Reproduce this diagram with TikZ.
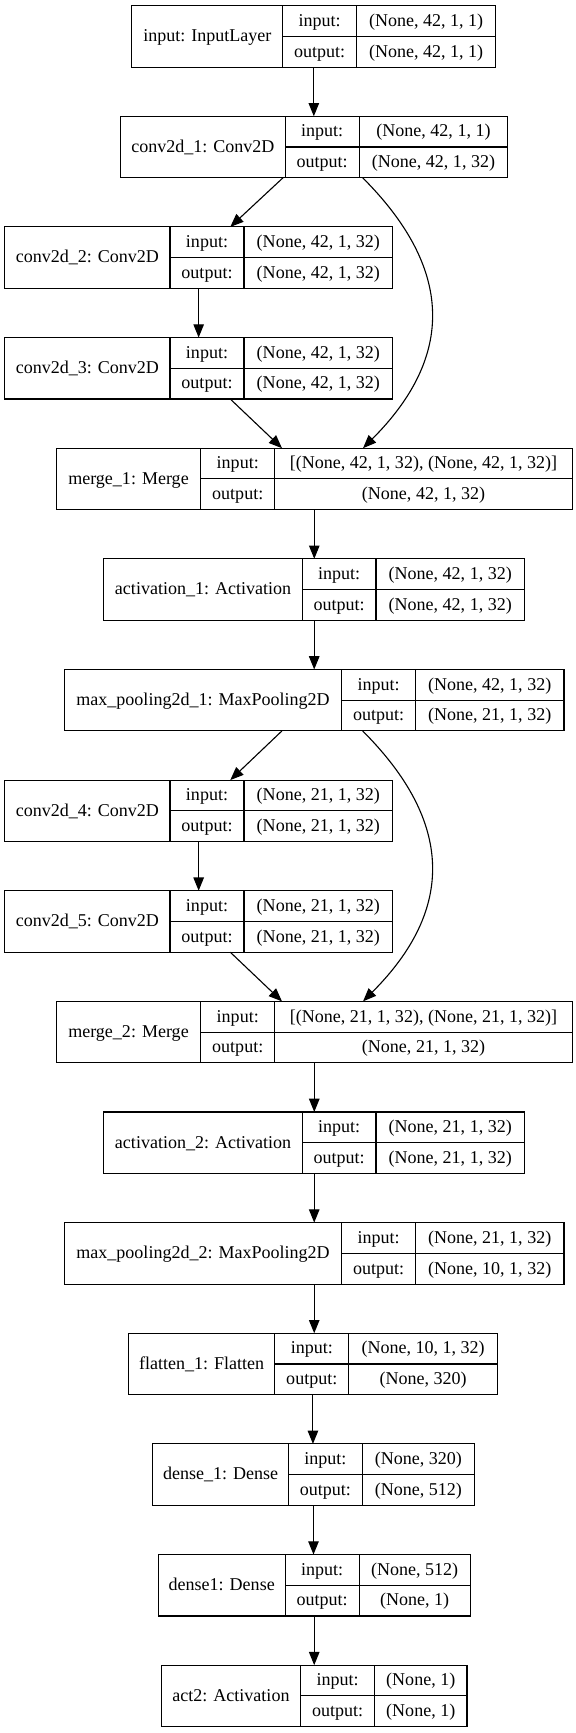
\documentclass[tikz,border=0pt]{standalone}
\usepackage{fontspec}
\setmainfont{Liberation Serif}
\usetikzlibrary{arrows.meta}
\tikzset{
  layerframe/.style={draw, line width=1pt, rectangle, inner sep=0pt, outer sep=0pt},
  cellrule/.style={line width=1pt},
  celltext/.style={anchor=base, inner sep=0pt, font=\fontsize{16.3}{19}\selectfont},
  flow/.style={line width=1pt, -{Triangle[length=12pt,width=9.5pt]}}
}
\newcommand\layerbox[9]{%
  \pgfmathsetmacro\Ltop{5.1+100.05*#2}%
  \pgfmathsetmacro\Lbot{\Ltop+55.6}%
  \pgfmathsetmacro\Lmid{\Ltop+27.8}%
  \pgfmathsetmacro\Lw{#4-#3}%
  \pgfmathsetmacro\Lcx{(#3+#4)/2}%
  \node[layerframe, minimum width=\Lw pt, minimum height=55.6pt] (#1) at (\Lcx,\Lmid) {};
  \draw[cellrule] (#5,\Ltop) -- (#5,\Lbot) (#6,\Ltop) -- (#6,\Lbot) (#5,\Lmid) -- (#4,\Lmid);
  \node[celltext] (#1-name) at ({(#3+#5)/2},{\Lmid+4.8}) {#7};
  \node[celltext] (#1-inl) at ({(#5+#6)/2},{\Ltop+18.7}) {input:};
  \node[celltext] (#1-inv) at ({(#6+#4)/2},{\Ltop+18.7}) {#8};
  \node[celltext] (#1-outl) at ({(#5+#6)/2},{\Ltop+46.5}) {output:};
  \node[celltext] (#1-outv) at ({(#6+#4)/2},{\Ltop+46.5}) {#9};
}
\begin{document}
\begin{tikzpicture}[x=1pt, y=-1pt]
\useasboundingbox (0,0) rectangle (520,1567.2);
\layerbox{in}{0}{119.3}{448.3}{255.7}{322.3}{input: InputLayer}{(None, 42, 1, 1)}{(None, 42, 1, 1)}
\layerbox{c1}{1}{109}{459.3}{258}{324.7}{conv2d\_1: Conv2D}{(None, 42, 1, 1)}{(None, 42, 1, 32)}
\layerbox{c2}{2}{4.3}{355}{153.7}{220.7}{conv2d\_2: Conv2D}{(None, 42, 1, 32)}{(None, 42, 1, 32)}
\layerbox{c3}{3}{4.3}{355}{153.7}{220.7}{conv2d\_3: Conv2D}{(None, 42, 1, 32)}{(None, 42, 1, 32)}
\layerbox{m1}{4}{50.7}{517.7}{181.7}{248.3}{merge\_1: Merge}{[(None, 42, 1, 32), (None, 42, 1, 32)]}{(None, 42, 1, 32)}
\layerbox{a1}{5}{94}{474.3}{273.3}{340}{activation\_1: Activation}{(None, 42, 1, 32)}{(None, 42, 1, 32)}
\layerbox{p1}{6}{58.3}{510}{309}{375.7}{max\_pooling2d\_1: MaxPooling2D}{(None, 42, 1, 32)}{(None, 21, 1, 32)}
\layerbox{c4}{7}{4.3}{355}{153.7}{220.7}{conv2d\_4: Conv2D}{(None, 21, 1, 32)}{(None, 21, 1, 32)}
\layerbox{c5}{8}{4.3}{355}{153.7}{220.7}{conv2d\_5: Conv2D}{(None, 21, 1, 32)}{(None, 21, 1, 32)}
\layerbox{m2}{9}{50.7}{517.7}{181.7}{248.3}{merge\_2: Merge}{[(None, 21, 1, 32), (None, 21, 1, 32)]}{(None, 21, 1, 32)}
\layerbox{a2}{10}{94}{474.3}{273.3}{340}{activation\_2: Activation}{(None, 21, 1, 32)}{(None, 21, 1, 32)}
\layerbox{p2}{11}{58.3}{510}{309}{375.7}{max\_pooling2d\_2: MaxPooling2D}{(None, 21, 1, 32)}{(None, 10, 1, 32)}
\layerbox{fl}{12}{116}{450}{248.6}{315.3}{flatten\_1: Flatten}{(None, 10, 1, 32)}{(None, 320)}
\layerbox{d1}{13}{138}{429}{261}{327.6}{dense\_1: Dense}{(None, 320)}{(None, 512)}
\layerbox{d2}{14}{143}{425.3}{258}{324.7}{dense1: Dense}{(None, 512)}{(None, 1)}
\layerbox{ac}{15}{145.7}{422.3}{272}{338.7}{act2: Activation}{(None, 1)}{(None, 1)}
% straight connectors
\draw[flow] (in.south) -- (in.south |- c1.north);
\draw[flow] (c2.south) -- (c2.south |- c3.north);
\draw[flow] (m1.south) -- (m1.south |- a1.north);
\draw[flow] (a1.south) -- (a1.south |- p1.north);
\draw[flow] (c4.south) -- (c4.south |- c5.north);
\draw[flow] (m2.south) -- (m2.south |- a2.north);
\draw[flow] (a2.south) -- (a2.south |- p2.north);
\draw[flow] (p2.south) -- (p2.south |- fl.north);
\draw[flow] (fl.south) -- (fl.south |- d1.north);
\draw[flow] (d1.south) -- (d1.south |- d2.north);
\draw[flow] (d2.south) -- (d2.south |- ac.north);
% branch connectors
\draw[flow] ([xshift=-28.2pt]c1.south) -- ([xshift=28.6pt]c2.north);
\draw[flow] ([xshift=28.6pt]c3.south) -- ([xshift=-29.2pt]m1.north);
\draw[flow] ([xshift=43.8pt]c1.south) .. controls +(82.7,82.7) and +(82.7,-82.7) .. ([xshift=44.1pt]m1.north);
\draw[flow] ([xshift=-29.2pt]p1.south) -- ([xshift=28.6pt]c4.north);
\draw[flow] ([xshift=28.6pt]c5.south) -- ([xshift=-29.2pt]m2.north);
\draw[flow] ([xshift=43.8pt]p1.south) .. controls +(82.7,82.7) and +(82.7,-82.7) .. ([xshift=44.1pt]m2.north);
\end{tikzpicture}
\end{document}
